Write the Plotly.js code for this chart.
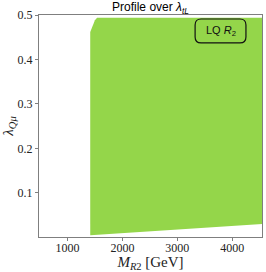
<!DOCTYPE html>
<html>
<head>
<meta charset="utf-8">
<script src="https://cdn.plot.ly/plotly-3.0.1.min.js"></script>
<style>html,body{margin:0;padding:0;background:#fff;}#plot{width:266px;height:272px;}</style>
</head>
<body>
<div id="plot"></div>
<script>
// Allowed region (profile over lambda_tL): lower boundary, left to right
const massLower = [1415, 2000, 2500, 3000, 3500, 4000, 4540];
const lambdaLower = [0.005, 0.0097, 0.0137, 0.0177, 0.0217, 0.0257, 0.030];
// upper / left boundary, right to left
const massUpper = [4540, 1540, 1500, 1470, 1440, 1415];
const lambdaUpper = [0.494, 0.494, 0.488, 0.480, 0.470, 0.462];

const xTickVals = [1000, 2000, 3000, 4000];
const xTickText = ["1000", "2000", "3000", "4000"];
const yTickVals = [0.1, 0.2, 0.3, 0.4, 0.5];
const yTickText = ["0.1", "0.2", "0.3", "0.4", "0.5"];

const polyX = massLower.concat(massUpper, [massLower[0]]);
const polyY = lambdaLower.concat(lambdaUpper, [lambdaLower[0]]);

const green = "#94d64a";
const axisGray = "#7f7f7f";
const serif = "Liberation Serif, DejaVu Serif, serif";

const trace = {
  x: polyX, y: polyY, type: "scatter", mode: "lines",
  fill: "toself", fillcolor: green, line: {width: 0, color: green},
  hoverinfo: "skip", showlegend: false
};

const r = 0.027;
const x0 = 0.700, x1 = 0.928, y0 = 0.874, y1 = 0.982;
const boxPath = `M ${x0 + r},${y0} L ${x1 - r},${y0} Q ${x1},${y0} ${x1},${y0 + r} ` +
  `L ${x1},${y1 - r} Q ${x1},${y1} ${x1 - r},${y1} L ${x0 + r},${y1} ` +
  `Q ${x0},${y1} ${x0},${y1 - r} L ${x0},${y0 + r} Q ${x0},${y0} ${x0 + r},${y0} Z`;

const layout = {
  width: 266, height: 272,
  margin: {l: 39, r: 4, t: 15, b: 35, pad: 0},
  paper_bgcolor: "#fff", plot_bgcolor: "#fff",
  showlegend: false,
  title: {
    text: "Profile over <i>λ</i><sub><i>tL</i></sub>",
    font: {family: "Liberation Sans, Arial, sans-serif", size: 12, color: "#000"},
    x: 0.5, xref: "paper", xanchor: "center",
    y: 0.975, yref: "container", yanchor: "middle"
  },
  xaxis: {
    range: [483, 4540], showgrid: false, zeroline: false,
    showline: true, linecolor: axisGray, linewidth: 1, mirror: true,
    ticks: "outside", ticklen: 3, tickcolor: axisGray, tickwidth: 1,
    tickvals: xTickVals, ticktext: xTickText, ticklabelstandoff: -3,
    tickfont: {family: serif, size: 12, color: "#222"},
    title: {text: "<i>M</i><sub><i>R</i>2</sub> [GeV]", font: {family: serif, size: 15, color: "#222"}, standoff: 0}
  },
  yaxis: {
    range: [0.001, 0.5], showgrid: false, zeroline: false,
    showline: true, linecolor: axisGray, linewidth: 1, mirror: true,
    ticks: "outside", ticklen: 3, tickcolor: axisGray, tickwidth: 1,
    tickvals: yTickVals, ticktext: yTickText,
    tickfont: {family: serif, size: 12, color: "#222"},
    title: {text: "<i>λ</i><sub><i>Qμ</i></sub>", font: {family: serif, size: 15, color: "#222"}, standoff: 2}
  },
  shapes: [{
    type: "path", xref: "paper", yref: "paper", path: boxPath,
    line: {color: "#111", width: 1.2}, fillcolor: "rgba(0,0,0,0)", layer: "above"
  }],
  annotations: [{
    xref: "paper", yref: "paper", x: (x0 + x1) / 2, y: (y0 + y1) / 2,
    xanchor: "center", yanchor: "middle", showarrow: false,
    text: "LQ <i>R</i><sub>2</sub>",
    font: {family: "Liberation Sans, Arial, sans-serif", size: 11, color: "#111"}
  }]
};

Plotly.newPlot("plot", [trace], layout, {displayModeBar: false, staticPlot: true});
</script>
</body>
</html>
